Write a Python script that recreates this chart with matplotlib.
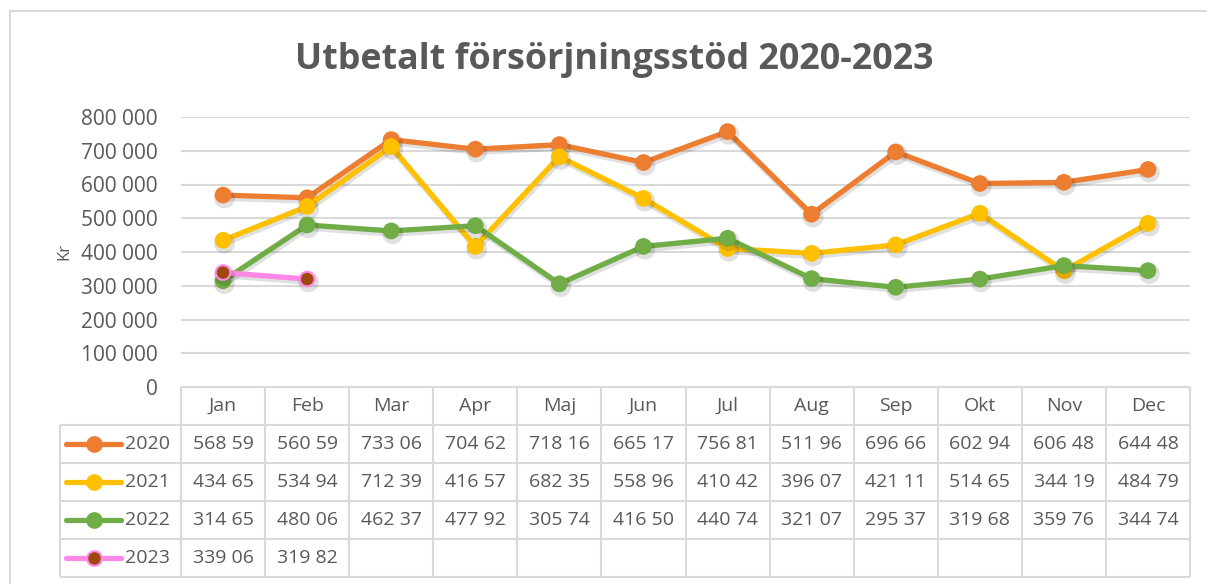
import matplotlib
matplotlib.use("Agg")
import matplotlib.pyplot as plt
import matplotlib.patheffects as pe
from matplotlib.lines import Line2D

plt.rcParams['font.family'] = ['Open Sans', 'DejaVu Sans']

months = ["Jan", "Feb", "Mar", "Apr", "Maj", "Jun", "Jul", "Aug", "Sep", "Okt", "Nov", "Dec"]
years = ["2020", "2021", "2022", "2023"]
v2020 = [568590, 560590, 733060, 704620, 718160, 665170, 756810, 511960, 696660, 602940, 606480, 644480]
v2021 = [434650, 534940, 712390, 416570, 682350, 558960, 410420, 396070, 421110, 514650, 344190, 484790]
v2022 = [314650, 480060, 462370, 477920, 305740, 416500, 440740, 321070, 295370, 319680, 359760, 344740]
v2023 = [339060, 319820]
series = [v2020, v2021, v2022, v2023]
line_colors = ["#ED7D31", "#FFC000", "#70AD47", "#FF88E6"]
marker_colors = ["#ED7D31", "#FFC000", "#70AD47", "#9E480E"]
yticks = [0, 100000, 200000, 300000, 400000, 500000, 600000, 700000, 800000]

W, H = 1207, 584
fig = plt.figure(figsize=(W / 100, H / 100), dpi=100)
txt = "#595959"
grid = "#D9D9D9"

# main plot axes
L, R, T, B = 181, 1190, 117, 387
ax = fig.add_axes([L / W, 1 - B / H, (R - L) / W, (B - T) / H])
ax.set_xlim(-0.5, len(months) - 0.5)
ax.set_ylim(0, 800000)
ax.set_yticks(yticks)
ax.set_yticklabels([f"{v:,}".replace(",", " ") for v in yticks], color=txt, fontsize=15)
ax.tick_params(axis='y', length=0, pad=17)
ax.set_xticks([])
for s in ax.spines.values():
    s.set_visible(False)
ax.grid(axis='y', color=grid, linewidth=1.5)
ax.set_axisbelow(True)
ax.set_ylabel("Kr", color=txt, fontsize=12, labelpad=6)

shadow = [pe.SimpleLineShadow(offset=(1.0, -2.0), shadow_color='#000000', alpha=0.12, linewidth=4.5), pe.Normal()]
for vals, lc, mc in zip(series, line_colors, marker_colors):
    xs = list(range(len(vals)))
    ax.plot(xs, vals, color=lc, linewidth=3.8, marker='o', markersize=10.5,
            markerfacecolor=mc, markeredgecolor=lc, markeredgewidth=1.5,
            solid_capstyle='round', path_effects=shadow, zorder=3)

# overlay axes in pixel coords for table and border
ov = fig.add_axes([0, 0, 1, 1], zorder=-1)
ov.set_xlim(0, W)
ov.set_ylim(H, 0)
ov.axis('off')
ov.patch.set_alpha(0)

ov2 = fig.add_axes([0, 0, 1, 1])
ov2.set_xlim(0, W)
ov2.set_ylim(H, 0)
ov2.axis('off')
ov2.patch.set_alpha(0)

# chart border (left and top visible)
ov.plot([10, 10], [11, H + 5], color=grid, lw=1.5, clip_on=False)
ov.plot([10, W + 5], [11, 11], color=grid, lw=1.5, clip_on=False)

# title
ov2.text(614, 60, "Utbetalt försörjningsstöd 2020-2023", ha='center', va='center',
         fontsize=25.8, fontweight='bold', color=txt)

# table
col_w = (R - L) / len(months)
row_y = [387, 425, 463, 501, 539, 577]
leg_left = 60
tl = dict(color=grid, lw=1.5, solid_capstyle='butt')
ov2.plot([L, R], [row_y[0], row_y[0]], **tl)
for y in row_y[1:]:
    ov2.plot([leg_left, R], [y, y], **tl)
for i in range(len(months) + 1):
    x = L + i * col_w
    ov2.plot([x, x], [row_y[0], row_y[-1]], **tl)
ov2.plot([leg_left, leg_left], [row_y[1], row_y[-1]], **tl)

for i, m in enumerate(months):
    ov2.text(L + (i + 0.5) * col_w, (row_y[0] + row_y[1]) / 2, m, ha='center', va='center',
             fontsize=14, color=txt)

def fmt(v):
    s = f"{v:,}".replace(",", " ")
    return s[:-1]  # cell too narrow: last digit cut off

for r, (yr, vals, lc, mc) in enumerate(zip(years, series, line_colors, marker_colors)):
    yc = (row_y[r + 1] + row_y[r + 2]) / 2
    ov2.add_line(Line2D([66, 121], [yc, yc], color=lc, lw=3.8, solid_capstyle='round'))
    ov2.add_line(Line2D([93.5], [yc], marker='o', markersize=10.5, markerfacecolor=mc,
                        markeredgecolor=lc, markeredgewidth=1.5, linestyle='none'))
    ov2.text(125, yc, yr, ha='left', va='center', fontsize=14, color=txt)
    for i, v in enumerate(vals):
        ov2.text(L + (i + 0.5) * col_w, yc, fmt(v), ha='center', va='center',
                 fontsize=14, color=txt)

fig.savefig("out.png", dpi=100)
